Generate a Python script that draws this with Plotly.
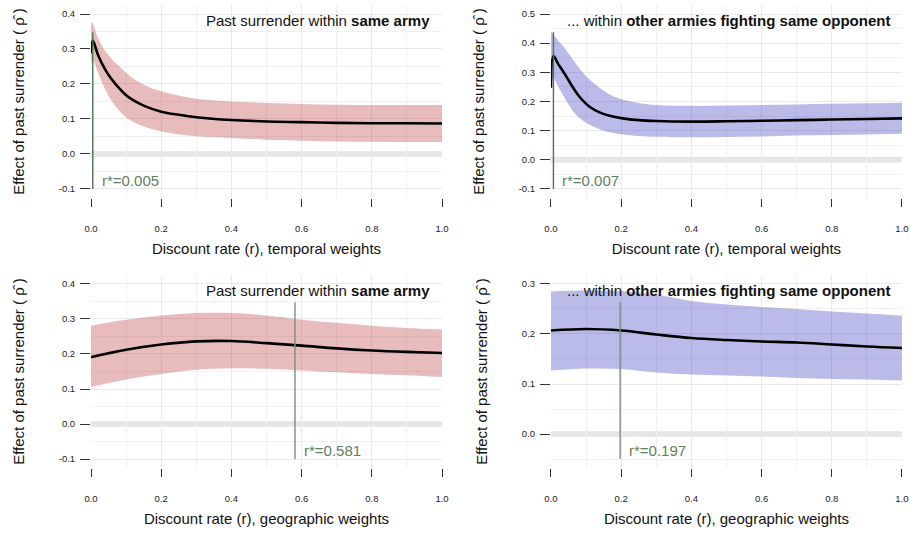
import plotly.graph_objects as go

# ---------------- data ----------------
# Top-left: temporal weights, same army
r_tl = [0, 0.005, 0.02, 0.04, 0.06, 0.08, 0.1, 0.125, 0.155, 0.2, 0.25, 0.3, 0.4, 0.5, 0.6, 0.7, 0.8, 0.9, 1.0]
est_tl = [0.288, 0.324, 0.283, 0.242, 0.212, 0.188, 0.168, 0.151, 0.136, 0.121, 0.112, 0.105, 0.097, 0.093, 0.091, 0.089, 0.088, 0.088, 0.087]
hi_tl = [0.377, 0.372, 0.331, 0.295, 0.27, 0.251, 0.232, 0.213, 0.196, 0.179, 0.167, 0.158, 0.15, 0.146, 0.143, 0.141, 0.14, 0.14, 0.14]
lo_tl = [0.255, 0.27, 0.232, 0.185, 0.15, 0.124, 0.105, 0.089, 0.077, 0.064, 0.056, 0.051, 0.046, 0.041, 0.038, 0.036, 0.035, 0.034, 0.034]

# Top-right: temporal weights, other armies fighting same opponent
r_tr = [0, 0.007, 0.02, 0.04, 0.06, 0.08, 0.11, 0.14, 0.17, 0.2, 0.25, 0.3, 0.4, 0.5, 0.6, 0.7, 0.8, 0.9, 1.0]
est_tr = [0.247, 0.356, 0.33, 0.293, 0.253, 0.218, 0.182, 0.162, 0.15, 0.143, 0.136, 0.133, 0.131, 0.132, 0.134, 0.136, 0.138, 0.14, 0.142]
hi_tr = [0.437, 0.43, 0.41, 0.382, 0.348, 0.315, 0.275, 0.245, 0.222, 0.208, 0.195, 0.188, 0.185, 0.186, 0.188, 0.19, 0.192, 0.194, 0.196]
lo_tr = [0.25, 0.28, 0.252, 0.21, 0.172, 0.145, 0.12, 0.104, 0.094, 0.088, 0.082, 0.079, 0.077, 0.078, 0.08, 0.083, 0.085, 0.087, 0.089]

# Bottom-left: geographic weights, same army
r_bl = [0, 0.1, 0.2, 0.3, 0.4, 0.5, 0.6, 0.7, 0.8, 0.9, 1.0]
est_bl = [0.191, 0.212, 0.227, 0.236, 0.237, 0.231, 0.224, 0.216, 0.21, 0.206, 0.203]
hi_bl = [0.281, 0.298, 0.31, 0.317, 0.317, 0.31, 0.298, 0.289, 0.281, 0.274, 0.27]
lo_bl = [0.106, 0.127, 0.143, 0.155, 0.159, 0.158, 0.153, 0.148, 0.143, 0.139, 0.134]

# Bottom-right: geographic weights, other armies fighting same opponent
r_br = [0, 0.1, 0.2, 0.3, 0.4, 0.5, 0.6, 0.7, 0.8, 0.9, 1.0]
est_br = [0.207, 0.21, 0.207, 0.199, 0.192, 0.188, 0.185, 0.183, 0.179, 0.175, 0.172]
hi_br = [0.285, 0.287, 0.286, 0.279, 0.266, 0.259, 0.254, 0.25, 0.245, 0.241, 0.237]
lo_br = [0.127, 0.131, 0.13, 0.123, 0.119, 0.117, 0.115, 0.112, 0.11, 0.109, 0.107]

rstar = [0.005, 0.007, 0.581, 0.197]
rstar_labels = ["r*=0.005", "r*=0.007", "r*=0.581", "r*=0.197"]

x_ticks = [0.0, 0.2, 0.4, 0.6, 0.8, 1.0]
x_ticktext = ["0.0", "0.2", "0.4", "0.6", "0.8", "1.0"]
y_ticks_tl = [-0.1, 0.0, 0.1, 0.2, 0.3, 0.4]
y_ticktext_tl = ["-0.1", "0.0", "0.1", "0.2", "0.3", "0.4"]
y_ticks_tr = [-0.1, 0.0, 0.1, 0.2, 0.3, 0.4, 0.5]
y_ticktext_tr = ["-0.1", "0.0", "0.1", "0.2", "0.3", "0.4", "0.5"]
y_ticks_br = [0.0, 0.1, 0.2, 0.3]
y_ticktext_br = ["0.0", "0.1", "0.2", "0.3"]

panel_titles = [
    "Past surrender within <b>same army</b>",
    "... within <b>other armies fighting same opponent</b>",
    "Past surrender within <b>same army</b>",
    "... within <b>other armies fighting same opponent</b>",
]
x_titles = [
    "Discount rate (r), temporal weights",
    "Discount rate (r), temporal weights",
    "Discount rate (r), geographic weights",
    "Discount rate (r), geographic weights",
]
y_title = "Effect of past surrender ( \u03c1\u0302 )"

# ---------------- style / layout ----------------
FONT = "Liberation Sans, Arial, Helvetica, sans-serif"
RED_BAND = "rgba(178,34,34,0.3)"
BLUE_BAND = "rgba(30,30,185,0.3)"

panels = [
    dict(r=r_tl, est=est_tl, lo=lo_tl, hi=hi_tl, band=RED_BAND,
         xdom=[0.0999, 0.4852], ydom=[0.6311, 0.9902], yr=[-0.125, 0.425],
         yt=y_ticks_tl, ytt=y_ticktext_tl, green="#4d744d"),
    dict(r=r_tr, est=est_tr, lo=lo_tr, hi=hi_tr, band=BLUE_BAND,
         xdom=[0.6048, 0.9901], ydom=[0.6311, 0.9902], yr=[-0.13, 0.53],
         yt=y_ticks_tr, ytt=y_ticktext_tr, green="#4d744d"),
    dict(r=r_bl, est=est_bl, lo=lo_bl, hi=hi_bl, band=RED_BAND,
         xdom=[0.0999, 0.4852], ydom=[0.1273, 0.4865], yr=[-0.125, 0.425],
         yt=y_ticks_tl, ytt=y_ticktext_tl, green="#789078"),
    dict(r=r_br, est=est_br, lo=lo_br, hi=hi_br, band=BLUE_BAND,
         xdom=[0.6048, 0.9901], ydom=[0.1273, 0.4865], yr=[-0.0675, 0.3175],
         yt=y_ticks_br, ytt=y_ticktext_br, green="#789078"),
]

fig = go.Figure()
layout_axes = {}
shapes = []
annotations = []

for i, p in enumerate(panels):
    n = "" if i == 0 else str(i + 1)
    xa, ya = "x" + n, "y" + n
    fig.add_trace(go.Scatter(x=p["r"], y=p["lo"], xaxis=xa, yaxis=ya, mode="lines",
                             line=dict(width=0, shape="spline", smoothing=1.0),
                             hoverinfo="skip", showlegend=False))
    fig.add_trace(go.Scatter(x=p["r"], y=p["hi"], xaxis=xa, yaxis=ya, mode="lines",
                             line=dict(width=0, shape="spline", smoothing=1.0),
                             fill="tonexty", fillcolor=p["band"],
                             hoverinfo="skip", showlegend=False))
    fig.add_trace(go.Scatter(x=p["r"], y=p["est"], xaxis=xa, yaxis=ya, mode="lines",
                             line=dict(width=2.6, color="black", shape="spline", smoothing=1.0),
                             showlegend=False))

    layout_axes["xaxis" + n] = dict(
        domain=p["xdom"], anchor=ya, range=[0, 1], automargin=False,
        tickmode="array", tickvals=x_ticks, ticktext=x_ticktext,
        ticks="outside", ticklen=8, tickwidth=1, tickcolor="#333333",
        ticklabelstandoff=14,
        tickfont=dict(size=9.5, color="#222222", family=FONT),
        showgrid=True, gridcolor="#e9e9e9", gridwidth=1,
        minor=dict(tick0=0, dtick=0.1, showgrid=True, gridcolor="#f1f1f1", gridwidth=0.8),
        zeroline=False, showline=False,
        title=dict(text=x_titles[i], font=dict(size=15, color="#111111", family=FONT), standoff=10),
    )
    layout_axes["yaxis" + n] = dict(
        domain=p["ydom"], anchor=xa, range=p["yr"], automargin=False,
        tickmode="array", tickvals=p["yt"], ticktext=p["ytt"],
        ticks="outside", ticklen=10, tickwidth=1, tickcolor="#333333",
        ticklabelstandoff=3,
        tickfont=dict(size=9.5, color="#222222", family=FONT),
        showgrid=True, gridcolor="#e9e9e9", gridwidth=1,
        minor=dict(tick0=0, dtick=0.05, showgrid=True, gridcolor="#f1f1f1", gridwidth=0.8),
        zeroline=False, showline=False,
        title=dict(text=y_title, font=dict(size=15, color="#111111", family=FONT), standoff=30),
    )

    # thick light-grey zero reference line
    shapes.append(dict(type="line", xref=xa + " domain", yref=ya, x0=0, x1=1, y0=0, y1=0,
                       line=dict(color="#e4e4e4", width=5.5), layer="below"))
    # r* vertical line
    shapes.append(dict(type="line", xref=xa, yref=ya + " domain", x0=rstar[i], x1=rstar[i],
                       y0=0.045, y1=0.86, line=dict(color=p["green"], width=1.4), layer="above"))

    annotations.append(dict(text=panel_titles[i], xref=xa + " domain", yref=ya + " domain",
                            x=0.972, y=0.922, xanchor="right", yanchor="middle", showarrow=False,
                            font=dict(size=15, color="#111111", family=FONT)))
    annotations.append(dict(text=rstar_labels[i], xref=xa, yref=ya + " domain",
                            x=rstar[i], y=0.092, xanchor="left", yanchor="middle", xshift=7,
                            showarrow=False, font=dict(size=15, color="#5f805f", family=FONT)))

fig.update_layout(
    width=911, height=536,
    margin=dict(l=0, r=0, t=0, b=0),
    paper_bgcolor="white", plot_bgcolor="white",
    font=dict(family=FONT),
    showlegend=False,
    shapes=shapes, annotations=annotations,
    **layout_axes,
)

fig.write_html("out.html")
